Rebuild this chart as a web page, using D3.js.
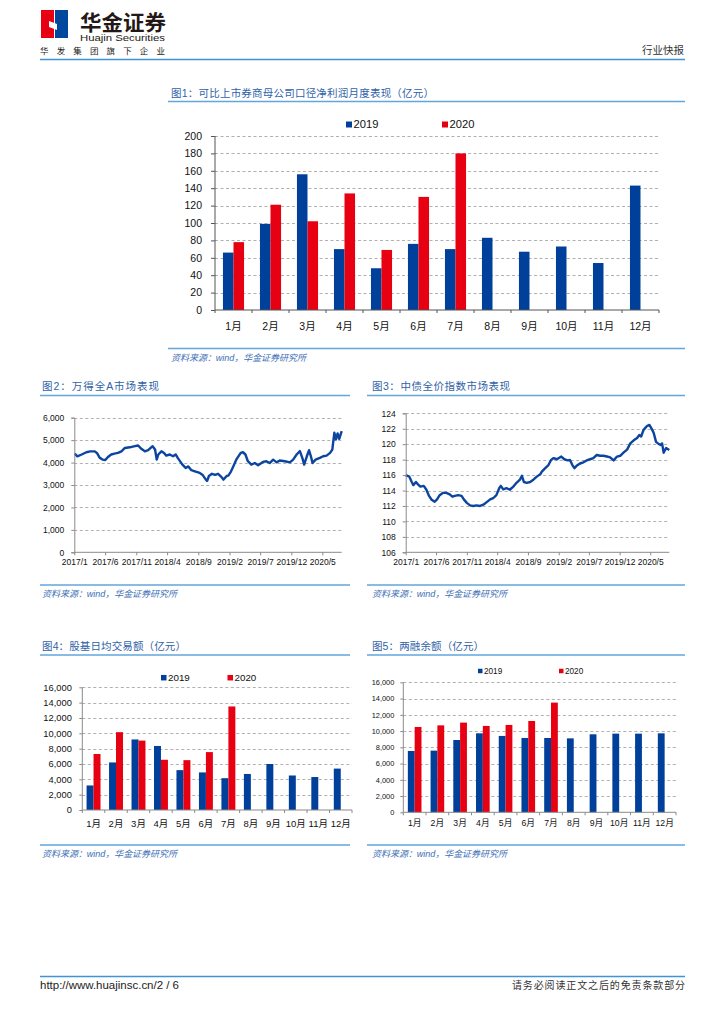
<!DOCTYPE html>
<html><head><meta charset="utf-8">
<script src="https://cdn.jsdelivr.net/npm/d3@7"></script>
<style>
body{margin:0;background:#fff;}
text{font-family:"Liberation Sans",Arial,"Noto Sans CJK SC",sans-serif;}
</style></head><body>
<svg id="page" width="724" height="1024"></svg>
<script>
// ---------------- DATA ----------------
const months = ["1月","2月","3月","4月","5月","6月","7月","8月","9月","10月","11月","12月"];
const seriesNames = ["2019","2020"];

// Fig 1: net profit (亿元)
const profit2019 = [66,99,156,70,48,76,70,83,67,73,54,143];
const profit2020 = [78,121,102,134,69,130,180];
const profitTicks = [0,20,40,60,80,100,120,140,160,180,200];

// Fig 4: daily turnover (亿元)
const turnover2019 = [3200,6200,9200,8350,5200,4900,4150,4700,6000,4500,4300,5400];
const turnover2020 = [7300,10150,9050,6550,6500,7550,13500];
const turnoverTicks = [0,2000,4000,6000,8000,10000,12000,14000,16000];

// Fig 5: margin balance (亿元)
const margin2019 = [7550,7590,8900,9720,9400,9150,9150,9100,9600,9680,9680,9720];
const margin2020 = [10500,10700,11040,10630,10750,11240,13500];
const marginTicks = [0,2000,4000,6000,8000,10000,12000,14000,16000];

// time axis
const timeTickLabels = ["2017-01-01","2017-06-01","2017-11-01","2018-04-01","2018-09-01","2019-02-01","2019-07-01","2019-12-01","2020-05-01"];
const timeDomain = ["2017-01-01","2020-08-04"];

// Fig 2: Wind All A
const windDates = ["2017-01-03","2017-01-16","2017-02-06","2017-03-01","2017-03-20","2017-04-10","2017-04-22","2017-05-05","2017-05-21","2017-06-02","2017-06-15","2017-07-01","2017-07-17","2017-08-03","2017-08-20","2017-09-06","2017-09-30","2017-10-25","2017-11-10","2017-11-27","2017-12-13","2017-12-29","2018-01-20","2018-02-01","2018-02-09","2018-02-17","2018-03-04","2018-03-17","2018-03-28","2018-04-14","2018-04-30","2018-05-13","2018-05-24","2018-06-15","2018-07-01","2018-07-14","2018-07-29","2018-08-15","2018-09-08","2018-09-21","2018-10-08","2018-10-14","2018-10-23","2018-11-07","2018-11-22","2018-12-07","2018-12-24","2019-01-02","2019-01-18","2019-01-26","2019-02-08","2019-02-20","2019-03-06","2019-03-28","2019-04-08","2019-04-20","2019-05-02","2019-05-19","2019-06-05","2019-06-21","2019-07-15","2019-08-01","2019-08-17","2019-09-03","2019-09-20","2019-10-05","2019-10-30","2019-11-24","2019-12-10","2019-12-27","2020-01-12","2020-01-24","2020-02-02","2020-02-15","2020-02-26","2020-03-06","2020-03-14","2020-03-29","2020-04-19","2020-05-05","2020-05-22","2020-06-08","2020-06-19","2020-06-29","2020-07-07","2020-07-15","2020-07-23","2020-08-04"];
const windValues = [4400,4280,4360,4460,4500,4500,4430,4220,4130,4110,4250,4360,4400,4430,4500,4650,4680,4730,4760,4600,4500,4550,4730,4580,4130,4360,4500,4430,4310,4360,4280,4360,4200,3910,3760,3830,3660,3610,3540,3460,3240,3180,3400,3500,3450,3500,3350,3240,3400,3420,3600,3840,4130,4430,4460,4360,4060,3910,3980,3880,4030,4060,3980,4130,4010,4090,4060,4010,4130,4360,4510,4210,3910,4280,4550,4280,3980,4130,4210,4280,4310,4430,4580,5330,5030,5300,5060,5400];
const windTicks = [0,1000,2000,3000,4000,5000,6000];

// Fig 3: ChinaBond composite
const bondDates = ["2017-01-01","2017-01-19","2017-01-31","2017-02-08","2017-02-21","2017-03-03","2017-03-15","2017-04-01","2017-04-14","2017-04-27","2017-05-10","2017-05-25","2017-06-06","2017-06-19","2017-07-06","2017-07-22","2017-08-08","2017-08-21","2017-09-03","2017-09-19","2017-10-06","2017-10-17","2017-11-01","2017-11-17","2017-12-03","2017-12-19","2018-01-06","2018-01-22","2018-02-08","2018-02-25","2018-03-12","2018-03-28","2018-04-11","2018-04-19","2018-05-01","2018-05-17","2018-06-03","2018-06-20","2018-07-06","2018-07-23","2018-08-02","2018-08-12","2018-08-26","2018-09-12","2018-09-28","2018-10-15","2018-11-01","2018-11-09","2018-11-26","2018-12-12","2018-12-25","2019-01-07","2019-01-23","2019-02-14","2019-03-01","2019-03-17","2019-03-29","2019-04-10","2019-04-20","2019-05-01","2019-05-18","2019-06-04","2019-06-20","2019-07-07","2019-07-23","2019-08-09","2019-08-26","2019-09-12","2019-09-29","2019-10-15","2019-11-01","2019-11-18","2019-12-04","2019-12-20","2020-01-07","2020-01-23","2020-02-09","2020-02-26","2020-03-08","2020-03-17","2020-03-29","2020-04-15","2020-04-27","2020-05-07","2020-05-18","2020-05-30","2020-06-09","2020-06-21","2020-06-29","2020-07-07","2020-07-19","2020-08-04"];
const bondValues = [116.0,115.8,115.1,114.7,115.1,114.8,114.5,114.6,114.1,113.3,112.8,112.55,112.85,113.4,113.7,113.7,113.5,113.2,113.3,113.4,113.3,112.85,112.4,112.08,112.0,112.08,112.0,112.16,112.5,112.85,113.0,113.4,114.3,114.6,114.15,114.3,114.1,114.5,115.0,115.4,115.9,115.1,115.0,115.1,115.4,115.8,116.1,116.45,116.9,117.3,117.95,118.2,118.05,118.4,118.05,117.9,117.95,117.3,116.9,117.2,117.5,117.65,117.9,118.05,118.2,118.6,118.5,118.5,118.4,118.3,117.9,118.4,118.5,118.9,119.3,120.1,120.5,120.8,121.2,121.0,121.85,122.35,122.5,122.05,121.5,120.3,120.1,119.9,120.1,118.9,119.5,119.25];
const bondTicks = [106,108,110,112,114,116,118,120,122,124];

// ---------------- STYLE ----------------
const BLUE = "#00409b", RED = "#e60012", LINEC = "#0b45a0";
const TITLE = "#2f62a8", RULE = "#62a6dc", GRID = "#a8a8a8";
const svg = d3.select("#page");
svg.append("rect").attr("width",724).attr("height",1024).attr("fill","#fff");
const parse = d3.timeParse("%Y-%m-%d");

// ---------------- HEADER ----------------
const hdr = svg.append("g");
hdr.append("rect").attr("x",41).attr("y",10).attr("width",13).attr("height",28).attr("fill","#e60012");
hdr.append("rect").attr("x",55).attr("y",10).attr("width",13).attr("height",28).attr("fill","#00479d");
hdr.append("path").attr("d","M49,21 L57,24 L57,30 L49,27 Z").attr("fill","#fff");
hdr.append("text").attr("x",80).attr("y",30).attr("font-size",21).attr("font-weight","bold")
  .attr("fill","#231815").attr("textLength",86).attr("lengthAdjust","spacingAndGlyphs").text("华金证券");
hdr.append("text").attr("x",80).attr("y",41).attr("font-size",9.5).attr("fill","#231815")
  .attr("textLength",85).attr("lengthAdjust","spacingAndGlyphs").text("Huajin Securities");
hdr.append("text").attr("x",40).attr("y",54).attr("font-size",8.5).attr("fill","#231815")
  .attr("textLength",125).text("华发集团旗下企业");
hdr.append("text").attr("x",684).attr("y",54).attr("font-size",10.5).attr("fill","#333")
  .attr("text-anchor","end").text("行业快报");
hdr.append("line").attr("x1",40).attr("x2",685).attr("y1",59.5).attr("y2",59.5)
  .attr("stroke","#3f94d8").attr("stroke-width",1.6);

// ---------------- FOOTER ----------------
svg.append("line").attr("x1",40).attr("x2",685).attr("y1",976.5).attr("y2",976.5)
  .attr("stroke","#3f94d8").attr("stroke-width",1.6);
svg.append("text").attr("x",40).attr("y",989).attr("font-size",10).attr("fill","#222")
  .attr("textLength",139).attr("lengthAdjust","spacingAndGlyphs").text("http://www.huajinsc.cn/2 / 6");
svg.append("text").attr("x",685).attr("y",989).attr("font-size",10).attr("fill","#333")
  .attr("text-anchor","end").attr("textLength",173).text("请务必阅读正文之后的免责条款部分");

// ---------------- HELPERS ----------------
function frame(o) {
  svg.append("text").attr("x",o.tx).attr("y",o.ty).attr("font-size",10.5).attr("fill",TITLE)
    .attr("textLength",o.tlen).text(o.title);
  svg.append("line").attr("x1",o.lx0).attr("x2",o.lx1).attr("y1",o.ly).attr("y2",o.ly)
    .attr("stroke",RULE).attr("stroke-width",1.3);
  svg.append("line").attr("x1",o.lx0).attr("x2",o.lx1).attr("y1",o.sy).attr("y2",o.sy)
    .attr("stroke",RULE).attr("stroke-width",1.3);
  svg.append("text").attr("x",o.tx).attr("y",o.sy+12).attr("font-size",9).attr("fill","#3b6fb6")
    .attr("font-style","italic").attr("textLength",135).text("资料来源：wind，华金证券研究所");
}

function grid(g, y, ticks, x0, x1) {
  g.selectAll(null).data(ticks.filter(t => t !== ticks[0])).enter().append("line")
    .attr("x1",x0).attr("x2",x1).attr("y1",d => Math.round(y(d))+0.5).attr("y2",d => Math.round(y(d))+0.5)
    .attr("stroke",GRID).attr("stroke-width",0.9).attr("stroke-dasharray","3,2.5");
}

function styleAxis(sel, color, fs) {
  sel.selectAll("path.domain").attr("stroke",color).attr("stroke-width",1);
  sel.selectAll(".tick line").attr("stroke",color);
  sel.selectAll("text").attr("fill","#111").attr("font-size",fs)
    .style("font-family",'"Liberation Sans",Arial,"Noto Sans CJK SC",sans-serif');
}

function barChart(c) {
  const g = svg.append("g");
  const x = d3.scaleBand().domain(months).range([c.x0,c.x1]).paddingInner(c.pad).paddingOuter(c.pad/2);
  const xs = d3.scaleBand().domain(seriesNames).range([0,x.bandwidth()]);
  const y = d3.scaleLinear().domain([0,c.max]).range([c.yb,c.yt]);
  grid(g, y, c.ticks, c.x0, c.x1);
  const sets = [[c.d19,"2019",BLUE],[c.d20,"2020",RED]];
  sets.forEach(([arr,name,col]) => {
    g.selectAll(null).data(arr).enter().append("rect")
      .attr("x",(d,i) => x(months[i]) + xs(name))
      .attr("width",xs.bandwidth())
      .attr("y",d => y(d)).attr("height",d => y(0)-y(d))
      .attr("fill",col);
  });
  const ya = g.append("g").attr("transform",`translate(${c.x0},0)`)
    .call(d3.axisLeft(y).tickValues(c.ticks).tickSize(c.ts).tickPadding(c.tp).tickFormat(c.fmt));
  styleAxis(ya, c.axisColor, c.tfs);
  ya.select("path.domain").attr("d",`M0,${c.yt}V${c.yb}`);
  const xa = g.append("g").attr("transform",`translate(0,${c.yb})`)
    .call(d3.axisBottom(x).tickSize(0).tickPadding(c.cp));
  styleAxis(xa, c.axisColor, c.cfs);
  xa.select("path.domain").attr("d",`M${c.x0},0H${c.x1}`);
  // boundary ticks
  g.selectAll(null).data(d3.range(months.length+1)).enter().append("line")
    .attr("x1",i => c.x0 + i*x.step()).attr("x2",i => c.x0 + i*x.step())
    .attr("y1",c.yb).attr("y2",c.yb+3).attr("stroke",c.axisColor);
  // legend
  c.legend.forEach((L,i) => {
    g.append("rect").attr("x",L.x).attr("y",c.ly - L.s/2).attr("width",L.s).attr("height",L.s)
      .attr("fill",i===0?BLUE:RED);
    g.append("text").attr("x",L.x+L.s+1.5).attr("y",c.ly).attr("dy","0.35em")
      .attr("font-size",c.lfs).attr("fill","#111").text(seriesNames[i]);
  });
}

function lineChart(c) {
  const g = svg.append("g");
  const x = d3.scaleTime().domain(timeDomain.map(parse)).range([c.x0,c.x1]);
  const y = d3.scaleLinear().domain([c.ticks[0],c.ticks[c.ticks.length-1]]).range([c.yb,c.yt]);
  grid(g, y, c.ticks, c.x0, c.x1);
  const data = c.dates.map((d,i) => ({date: parse(d), v: c.values[i]}));
  g.append("path").datum(data)
    .attr("d", d3.line().x(d => x(d.date)).y(d => y(d.v)))
    .attr("fill","none").attr("stroke",LINEC).attr("stroke-width",2.4).attr("stroke-linejoin","round");
  const ya = g.append("g").attr("transform",`translate(${c.x0},0)`)
    .call(d3.axisLeft(y).tickValues(c.ticks).tickSize(3).tickPadding(7).tickFormat(c.fmt));
  styleAxis(ya, "#8a8a8a", c.fs);
  const xa = g.append("g").attr("transform",`translate(0,${c.yb})`)
    .call(d3.axisBottom(x).tickValues(timeTickLabels.map(parse)).tickSize(3).tickPadding(4)
      .tickFormat(d3.timeFormat("%Y/%-m")));
  styleAxis(xa, "#8a8a8a", c.fs);
  xa.select("path.domain").attr("d",`M${c.x0},0H${c.x1}`);
}

// ---------------- FIG 1 ----------------
frame({tx:171, ty:97, tlen:263, title:"图1：可比上市券商母公司口径净利润月度表现（亿元）",
       lx0:168, lx1:685, ly:101.5, sy:348.5});
barChart({x0:215, x1:659, yt:136, yb:310, max:200, ticks:profitTicks, fmt:d3.format("d"),
  d19:profit2019, d20:profit2020, pad:0.43, ts:4, tp:9, tfs:10.5, cfs:10.5, cp:13,
  axisColor:"#555", ly:124.5, lfs:11.2, legend:[{x:346,s:6},{x:442,s:6}]});

// ---------------- FIG 2 ----------------
frame({tx:42, ty:390, tlen:117, title:"图2：万得全A市场表现", lx0:40, lx1:350, ly:395.5, sy:585});
lineChart({x0:74.3, x1:341.7, yt:417.7, yb:552.3, ticks:windTicks, fmt:d3.format(","),
  dates:windDates, values:windValues, fs:8.5});

// ---------------- FIG 3 ----------------
frame({tx:372, ty:390, tlen:138, title:"图3：中债全价指数市场表现", lx0:367, lx1:685, ly:395.5, sy:585});
lineChart({x0:405.7, x1:669.3, yt:413.3, yb:552.3, ticks:bondTicks, fmt:d3.format("d"),
  dates:bondDates, values:bondValues, fs:8.5});

// ---------------- FIG 4 ----------------
frame({tx:42, ty:650, tlen:144, title:"图4：股基日均交易额（亿元）", lx0:40, lx1:350, ly:655, sy:845});
barChart({x0:82.3, x1:352, yt:687.3, yb:810, max:16000, ticks:turnoverTicks, fmt:d3.format(","),
  d19:turnover2019, d20:turnover2020, pad:0.38, ts:3, tp:7.5, tfs:9.3, cfs:9.5, cp:10,
  axisColor:"#8a8a8a", ly:677.7, lfs:9.8, legend:[{x:161,s:5.5},{x:227.5,s:5.5}]});

// ---------------- FIG 5 ----------------
frame({tx:372, ty:650, tlen:112, title:"图5：两融余额（亿元）", lx0:367, lx1:685, ly:655, sy:845});
barChart({x0:403.3, x1:676, yt:682.3, yb:812.3, max:16000, ticks:marginTicks, fmt:d3.format(","),
  d19:margin2019, d20:margin2020, pad:0.4, ts:3, tp:6, tfs:7.4, cfs:8.7, cp:8,
  axisColor:"#8a8a8a", ly:671, lfs:8.2, legend:[{x:478,s:4.5},{x:559,s:4.5}]});
</script>
</body></html>
